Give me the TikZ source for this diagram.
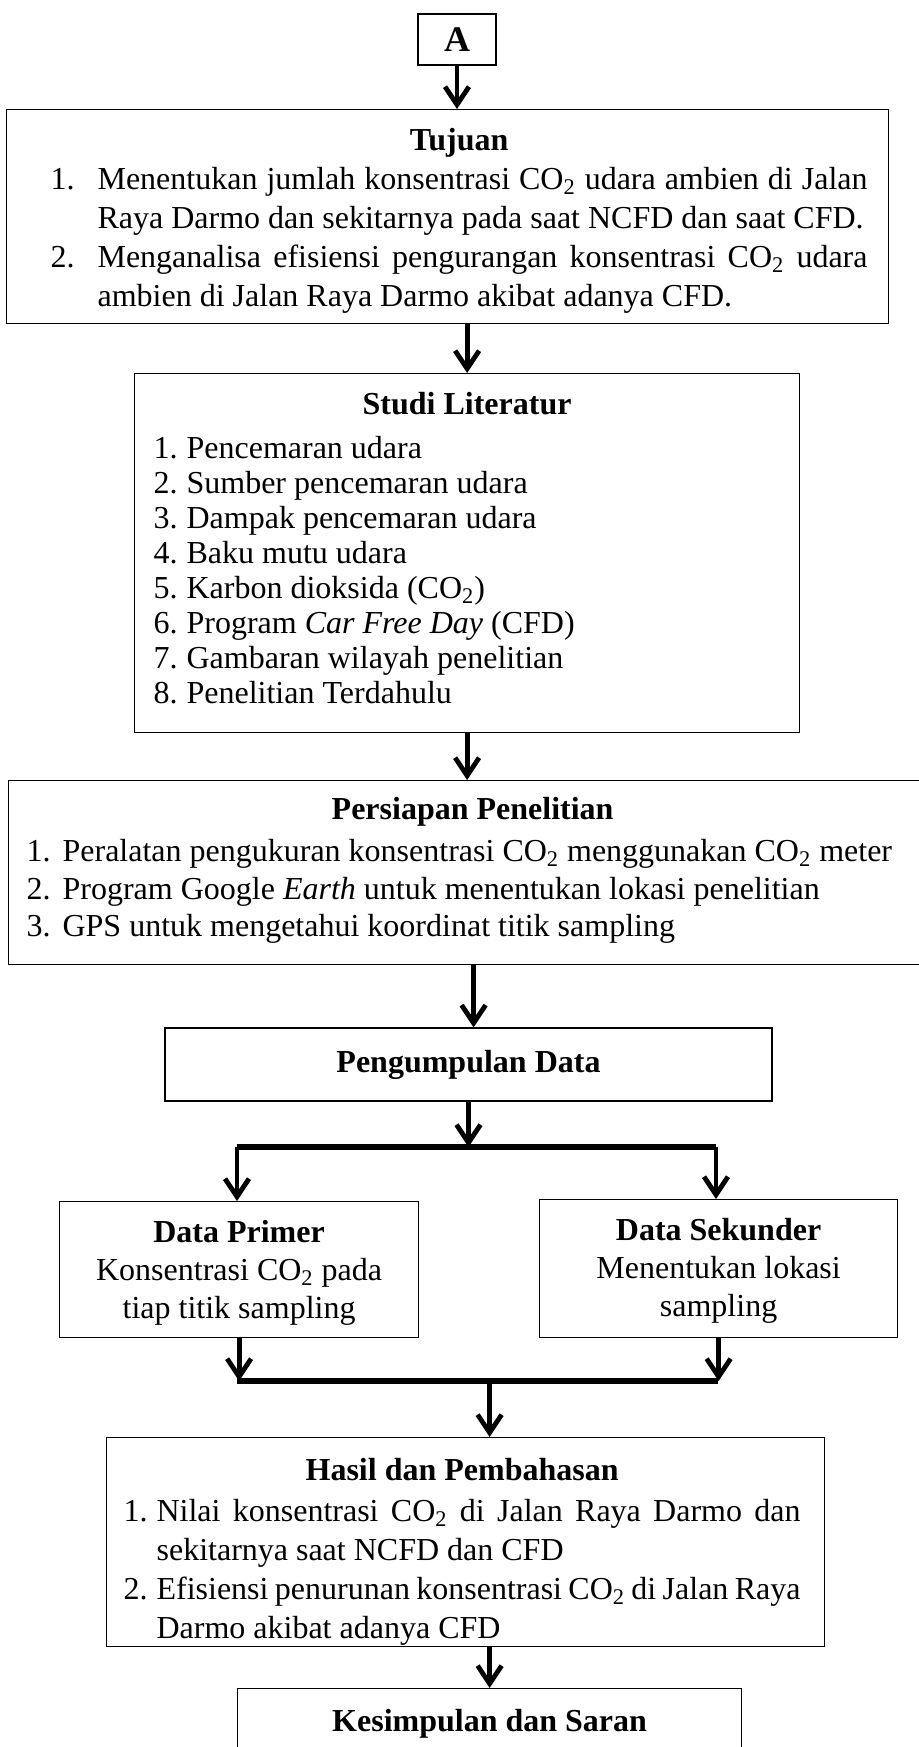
\documentclass[tikz,border=0pt]{standalone}
\usepackage{fontspec}
\setmainfont{Liberation Serif}
\usepackage{tikz}
\usetikzlibrary{arrows.meta, calc}
\newlength\ftab
% body of a box: width, height, left skip, right skip, number tab, text
\newcommand\flowbody[6]{%
  \parbox[t][#2][t]{#1}{\parindent=0pt\leftskip=#3\relax\rightskip=#4\relax
    \ftab=#5\relax\hyphenpenalty=10000\tolerance=9999 #6}}
\newcommand\ftitle[3]{%
  {\advance\leftskip by 0pt plus 1fil\advance\rightskip by 0pt plus 1fil
   \parfillskip=0pt\bfseries\rule{0pt}{#1}#3\par}\vspace{#2}}
\newcommand\fitem[2]{\par\hangindent=\ftab\hangafter=1\makebox[\ftab][l]{#1}#2\par}
\tikzset{
    fnode/.style={draw,line width=0.6pt,inner sep=0pt,font=\fontsize{16}{19.5}\selectfont},
    abox/.style={fnode,minimum width=39pt,minimum height=25.5pt,font=\fontsize{18}{20}\selectfont\bfseries},
    arr/.style={line width=2.4pt,-{Straight Barb[length=9pt,width=12pt]}},
    bar/.style={line width=3pt},
}
\begin{document}
\begin{tikzpicture}[x=0.5pt,y=-0.5pt]
\useasboundingbox (0,0) rectangle (919,1747);
\clip (0,0) rectangle (919,1747);
\node[abox] (a) at (457,39.5) {A};
\node[fnode,anchor=north west] (tujuan) at (6,109) {\flowbody{441pt}{107pt}{22pt}{10.5pt}{23.5pt}{%
  \ftitle{20.5pt}{0pt}{Tujuan}
  \fitem{1.}{Menentukan jumlah konsentrasi CO\textsubscript{2} udara ambien di Jalan\linebreak Raya Darmo dan sekitarnya pada saat NCFD dan saat CFD.}
  \fitem{2.}{Menganalisa efisiensi pengurangan konsentrasi CO\textsubscript{2} udara\linebreak ambien di Jalan Raya Darmo akibat adanya CFD.}}};
\node[fnode,anchor=north west,font=\fontsize{16}{17.5}\selectfont] (studi) at (134,373) {\flowbody{332.5pt}{179.5pt}{9.5pt}{9.5pt}{16.5pt}{%
  \ftitle{20.5pt}{4.5pt}{Studi Literatur}
  \fitem{1.}{Pencemaran udara}
  \fitem{2.}{Sumber pencemaran udara}
  \fitem{3.}{Dampak pencemaran udara}
  \fitem{4.}{Baku mutu udara}
  \fitem{5.}{Karbon dioksida (CO\textsubscript{2})}
  \fitem{6.}{Program \textit{Car Free Day} (CFD)}
  \fitem{7.}{Gambaran wilayah penelitian}
  \fitem{8.}{Penelitian Terdahulu}}};
\node[fnode,anchor=north west,font=\fontsize{16}{18.75}\selectfont] (siap) at (8,780) {\flowbody{465pt}{92pt}{9pt}{10pt}{18pt}{%
  \ftitle{19.5pt}{2.25pt}{Persiapan Penelitian}
  \fitem{1.}{Peralatan pengukuran konsentrasi CO\textsubscript{2} menggunakan CO\textsubscript{2} meter}
  \fitem{2.}{Program Google \textit{Earth} untuk menentukan lokasi penelitian}
  \fitem{3.}{GPS untuk mengetahui koordinat titik sampling}}};
\node[fnode,minimum width=303.5pt,minimum height=36.5pt,font=\fontsize{16}{19.5}\selectfont\bfseries] (kumpul) at (468.5,1064.5) {Pengumpulan Data};
\node[fnode,anchor=north west,font=\fontsize{16}{19}\selectfont] (primer) at (59,1201) {\flowbody{179.5pt}{68pt}{0pt}{0pt}{0pt}{%
  \ftitle{20.5pt}{0pt}{Data Primer}
  \centering Konsentrasi CO\textsubscript{2} pada\\tiap titik sampling\par}};
\node[fnode,anchor=north west,font=\fontsize{16}{19}\selectfont] (sekunder) at (539,1199) {\flowbody{179pt}{69pt}{0pt}{0pt}{0pt}{%
  \ftitle{20.5pt}{0pt}{Data Sekunder}
  \centering Menentukan lokasi\\sampling\par}};
\node[fnode,anchor=north west] (hasil) at (106,1437) {\flowbody{359pt}{104.5pt}{8.5pt}{12pt}{16.5pt}{%
  \ftitle{21.5pt}{1pt}{Hasil dan Pembahasan}
  \fitem{1.}{Nilai konsentrasi CO\textsubscript{2} di Jalan Raya Darmo dan\linebreak sekitarnya saat NCFD dan CFD}
  \fitem{2.}{Efisiensi penurunan konsentrasi CO\textsubscript{2} di Jalan Raya\linebreak Darmo akibat adanya CFD}}};
\node[fnode,anchor=north west] (simpul) at (237,1688) {\flowbody{252pt}{60pt}{0pt}{0pt}{0pt}{%
  \ftitle{21.5pt}{0pt}{Kesimpulan dan Saran}}};
% garis cabang
\coordinate (b1l) at (237,1147);
\coordinate (b1r) at (716,1147);
\coordinate (b2l) at (237,1381);
\coordinate (b2r) at (718,1381);
\draw[arr] (a.south) -- (a.south |- tujuan.north);
\draw[arr] (tujuan.south -| studi.north) -- (studi.north);
\draw[arr] (studi.south) -- (studi.south |- siap.north);
\draw[arr] (siap.south) -- (siap.south |- kumpul.north);
\draw[arr] (kumpul.south) -- (kumpul.south |- b1l);
\draw[bar] (b1l) -- (b1r);
\draw[arr] (b1l) -- (b1l |- primer.north);
\draw[arr] (b1r) -- (b1r |- sekunder.north);
\draw[arr] (primer.south) -- (primer.south |- b2l);
\draw[arr] (sekunder.south) -- (sekunder.south |- b2r);
\draw[bar] (b2l) -- (b2r);
\draw[arr] (simpul.north |- b2l) -- (simpul.north |- hasil.north);
\draw[arr] (simpul.north |- hasil.south) -- (simpul.north);
\end{tikzpicture}
\end{document}
